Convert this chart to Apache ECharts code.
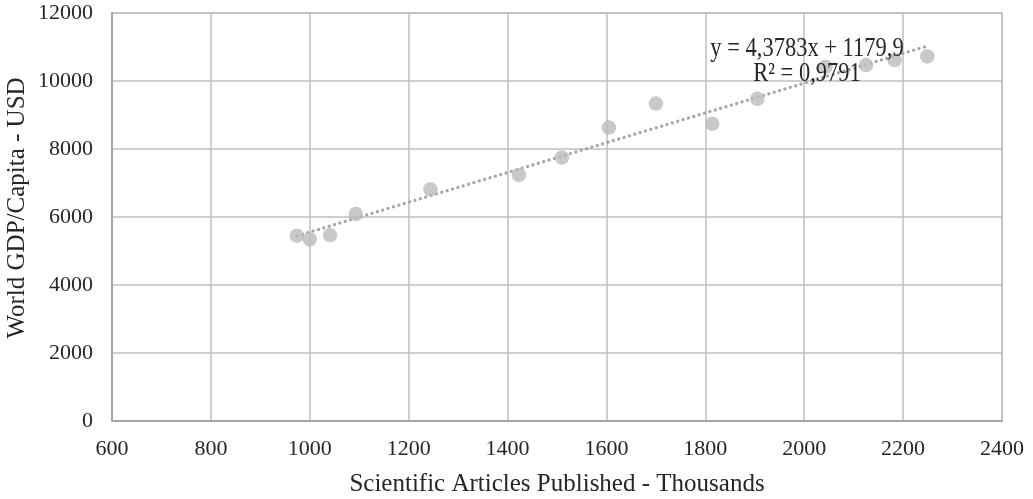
<!DOCTYPE html>
<html>
<head>
<meta charset="utf-8">
<script src="https://cdn.jsdelivr.net/npm/echarts@6/dist/echarts.min.js"></script>
<style>
html,body{margin:0;padding:0;background:#fff;}
#chart{width:1033px;height:499px;}
</style>
</head>
<body>
<div id="chart"></div>
<script>
// Data
const articles = [974, 1000, 1041, 1093, 1244, 1423, 1510, 1605, 1700, 1814, 1905, 2043, 2125, 2183, 2249];
const gdp      = [5449, 5343, 5470, 6088, 6816, 7237, 7747, 8630, 9337, 8739, 9476, 10418, 10468, 10616, 10722];
// Trend line end points (as drawn)
const trendX = [974, 2249];
const trendY = [5444, 11027];
const eqText = 'y = 4,3783x + 1179,9';
const r2Text = 'R² = 0,9791';
const xTitle = 'Scientific Articles Published - Thousands';
const yTitle = 'World GDP/Capita - USD';

const font = 'Liberation Serif';
const txtColor = '#262626';

const chart = echarts.init(document.getElementById('chart'), null, {renderer: 'canvas'});
chart.setOption({
  animation: false,
  backgroundColor: '#fff',
  grid: {left: 112, right: 31, top: 13, bottom: 78, containLabel: false, outerBoundsMode: 'none',
         show: true, borderColor: '#bfbfbf', borderWidth: 1.5},
  xAxis: {
    type: 'value', min: 600, max: 2400, interval: 200,
    name: xTitle, nameLocation: 'middle', nameGap: 51, nameMoveOverlap: false,
    nameTextStyle: {fontFamily: font, fontSize: 25, color: txtColor},
    axisLine: {show: true, lineStyle: {color: '#a6a6a6', width: 2}},
    axisTick: {show: false},
    axisLabel: {fontFamily: font, fontSize: 22, color: txtColor, margin: 17, formatter: v => String(v)},
    splitLine: {show: true, lineStyle: {color: '#bfbfbf', width: 1.5}}
  },
  yAxis: {
    type: 'value', min: 0, max: 12000, interval: 2000,
    name: yTitle, nameLocation: 'middle', nameGap: 82, nameRotate: 90, nameMoveOverlap: false,
    nameTextStyle: {fontFamily: font, fontSize: 25, color: txtColor, padding: [0, 0, 0, 18]},
    axisLine: {show: true, lineStyle: {color: '#a6a6a6', width: 2}},
    axisTick: {show: false},
    axisLabel: {fontFamily: font, fontSize: 22, color: txtColor, margin: 19, formatter: v => String(v)},
    splitLine: {show: true, lineStyle: {color: '#bfbfbf', width: 1.5}}
  },
  series: [
    {
      type: 'line',
      data: trendX.map((x, i) => [x, trendY[i]]),
      symbol: 'none',
      lineStyle: {color: '#a6a6a6', width: 3.2, type: [0.1, 5.5], cap: 'round'},
      z: 2
    },
    {
      type: 'scatter',
      data: articles.map((x, i) => [x, gdp[i]]),
      symbol: 'circle',
      symbolSize: 14.5,
      itemStyle: {color: '#bbbbbb'},
      z: 3
    }
  ],
  graphic: [
    {type: 'text', x: 807, y: 49, scaleY: 1.22, z: 100,
     style: {text: eqText, font: '22.5px "Liberation Serif"', fill: txtColor, align: 'center', verticalAlign: 'middle'}},
    {type: 'text', x: 807, y: 74, scaleY: 1.22, z: 100,
     style: {text: r2Text, font: '22.5px "Liberation Serif"', fill: txtColor, align: 'center', verticalAlign: 'middle'}}
  ]
});
</script>
</body>
</html>
